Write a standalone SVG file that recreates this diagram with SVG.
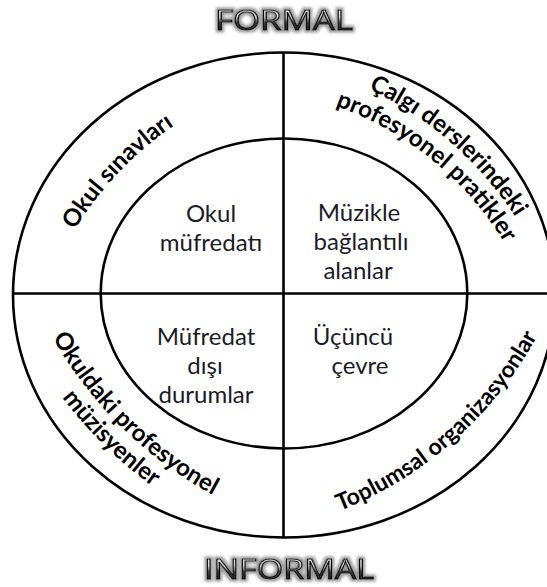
<svg xmlns="http://www.w3.org/2000/svg" xmlns:xlink="http://www.w3.org/1999/xlink" width="547" height="587" viewBox="0 0 547 587">
<style>
.ln{fill:none;stroke:#000;stroke-width:2.6}
.inner{font-family:Lato,"Open Sans","DejaVu Sans",sans-serif;font-size:24px;fill:#1c1c28;text-anchor:middle}
.arc{font-family:Lato,"Open Sans","DejaVu Sans",sans-serif;font-size:24px;font-weight:bold;fill:#000}
.title{font-family:"Open Sans","Noto Sans",sans-serif;font-size:28px;fill:url(#tg);stroke:#111;stroke-width:1.1;text-anchor:middle;filter:url(#glow)}
</style>
<defs>
<linearGradient id="tg" x1="0" y1="0" x2="0" y2="1">
<stop offset="0" stop-color="#ffffff"/>
<stop offset="0.45" stop-color="#d0d0d0"/>
<stop offset="0.6" stop-color="#404040"/>
<stop offset="1" stop-color="#000000"/>
</linearGradient>
<filter id="glow" x="-10%" y="-30%" width="120%" height="160%">
<feMorphology in="SourceAlpha" operator="dilate" radius="1.5" result="d"/>
<feGaussianBlur in="d" stdDeviation="1.5" result="b"/>
<feFlood flood-color="#999"/>
<feComposite in2="b" operator="in" result="s"/>
<feMerge><feMergeNode in="s"/><feMergeNode in="SourceGraphic"/></feMerge>
</filter>
<path id="p1" d="M25.3,387.7 A343,343 0 0 1 328.9,67.8"/>
<path id="p2a" d="M225.6,55.8 A353,353 0 0 1 567.6,354.1"/>
<path id="p2b" d="M223.1,87.6 A323,323 0 0 1 545.4,349.5"/>
<path id="p3a" d="M6.1,207.9 A407,407 0 0 0 343.2,539.2"/>
<path id="p3b" d="M15.4,319.8 A432,432 0 0 0 231.2,531.8"/>
<path id="p4" d="M220.9,537.4 A387,387 0 0 0 577.8,221.6"/>
</defs>
<rect width="547" height="587" fill="#fff"/>
<g id="connectors">
<ellipse class="ln" cx="284" cy="295" rx="271" ry="242.5"/>
<ellipse class="ln" cx="284" cy="293.5" rx="183.3" ry="155"/>
<line class="ln" x1="283.5" y1="52.5" x2="283.5" y2="537.5"/>
<line class="ln" x1="13" y1="293.5" x2="547" y2="293.5"/>
</g>
<g id="formal"><text class="title" x="284" y="30" textLength="138" lengthAdjust="spacingAndGlyphs">FORMAL</text></g>
<g id="informal"><text class="title" x="289" y="579" textLength="170" lengthAdjust="spacingAndGlyphs">INFORMAL</text></g>
<g id="okul-mufredati">
<text class="inner" x="211" y="222">Okul</text>
<text class="inner" x="211" y="251">müfredatı</text>
</g>
<g id="muzikle">
<text class="inner" x="359" y="221">Müzikle</text>
<text class="inner" x="361" y="250">bağlantılı</text>
<text class="inner" x="358" y="279">alanlar</text>
</g>
<g id="mufredat-disi">
<text class="inner" x="206" y="345">Müfredat</text>
<text class="inner" x="205" y="374">dışı</text>
<text class="inner" x="206" y="403">durumlar</text>
</g>
<g id="ucuncu">
<text class="inner" x="353" y="345">Üçüncü</text>
<text class="inner" x="360" y="374">çevre</text>
</g>
<g id="okul-sinavlari"><text class="arc"><textPath xlink:href="#p1" startOffset="50%" text-anchor="middle">Okul sınavları</textPath></text></g>
<g id="calgi">
<text class="arc"><textPath xlink:href="#p2a" startOffset="50%" text-anchor="middle">Çalgı derslerindeki</textPath></text>
<text class="arc"><textPath xlink:href="#p2b" startOffset="50%" text-anchor="middle">profesyonel pratikler</textPath></text>
</g>
<g id="okuldaki">
<text class="arc"><textPath xlink:href="#p3a" startOffset="50%" text-anchor="middle">Okuldaki profesyonel</textPath></text>
<text class="arc"><textPath xlink:href="#p3b" startOffset="50%" text-anchor="middle">müzisyenler</textPath></text>
</g>
<g id="toplumsal"><text class="arc" style="font-size:23px"><textPath xlink:href="#p4" startOffset="50%" text-anchor="middle">Toplumsal organizasyonlar</textPath></text></g>
</svg>
